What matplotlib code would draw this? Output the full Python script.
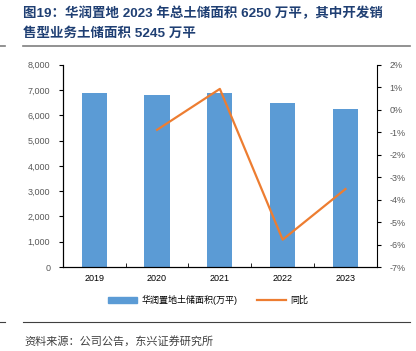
import numpy as np
import matplotlib.pyplot as plt
from matplotlib.lines import Line2D

plt.rcParams['font.family'] = ['Liberation Sans', 'Noto Sans CJK SC', 'DejaVu Sans']

years = ['2019', '2020', '2021', '2022', '2023']
land_bank = [6860, 6800, 6880, 6480, 6250]
yoy_years = ['2020', '2021', '2022', '2023']
yoy = [-0.9, 0.92, -5.78, -3.53]

blue = '#5B9BD5'
orange = '#ED7D31'
grey = '#595959'

fig = plt.figure(figsize=(4.16, 3.51), dpi=100)
ax = fig.add_axes([0.151, 0.239, 0.755, 0.577])

x = np.arange(len(years))
ax.bar(x, land_bank, width=0.4, color=blue, zorder=2)
ax.set_ylim(0, 8000)
ax.set_xlim(-0.5, len(years) - 0.5)
ax.set_yticks(range(0, 8001, 1000))
ax.set_yticklabels([f'{v:,}' for v in range(0, 8001, 1000)])
ax.set_xticks(x)
ax.set_xticklabels(years)
ax.set_xticks(np.arange(-0.5, len(years), 1), minor=True)
ax.tick_params(axis='x', which='major', length=0, labelsize=6.5, colors='black', pad=5)
ax.tick_params(axis='x', which='minor', length=3, direction='in')
ax.tick_params(axis='y', labelsize=6.5, labelcolor=grey, length=3, direction='out', pad=6)
ax.spines['top'].set_visible(False)
ax.spines['right'].set_visible(False)

ax2 = ax.twinx()
xi = [years.index(y) for y in yoy_years]
ax2.plot(xi, yoy, color=orange, lw=1.6, zorder=3)
ax2.set_ylim(-7, 2)
ax2.set_yticks(range(-7, 3))
ax2.set_yticklabels([f'{v}%' for v in range(-7, 3)])
ax2.tick_params(axis='y', labelsize=6.5, labelcolor=grey, length=3, direction='out', pad=6)
ax2.spines['top'].set_visible(False)

handles = [plt.Rectangle((0, 0), 1, 1, color=blue), Line2D([0], [0], color=orange, lw=1.6)]
fig.legend(handles, ['华润置地土储面积(万平)', '同比'], loc='center', bbox_to_anchor=(0.5, 0.145),
           ncol=2, frameon=False, fontsize=6.5, handlelength=3.2, handleheight=0.5,
           columnspacing=2.2, handletextpad=0.5)

title_color = '#1F3F73'
fig.text(0.056, 0.963, '图19：华润置地 2023 年总土储面积 6250 万平，其中开发销', fontsize=9.7,
         fontweight='bold', color=title_color, va='center', ha='left')
fig.text(0.056, 0.905, '售型业务土储面积 5245 万平', fontsize=9.7,
         fontweight='bold', color=title_color, va='center', ha='left')
fig.add_artist(Line2D([0.055, 0.985], [0.869, 0.869], color='#7F7F7F', lw=1.2))
fig.add_artist(Line2D([0.0, 0.012], [0.869, 0.869], color='#7F7F7F', lw=1.2))
fig.add_artist(Line2D([0.055, 0.985], [0.083, 0.083], color='#404040', lw=0.8))
fig.add_artist(Line2D([0.0, 0.012], [0.083, 0.083], color='#404040', lw=0.8))
fig.text(0.058, 0.028, '资料来源：公司公告，东兴证券研究所', fontsize=8, style='italic',
         color='#404040', va='center', ha='left')

fig.savefig('out.png', dpi=100)
